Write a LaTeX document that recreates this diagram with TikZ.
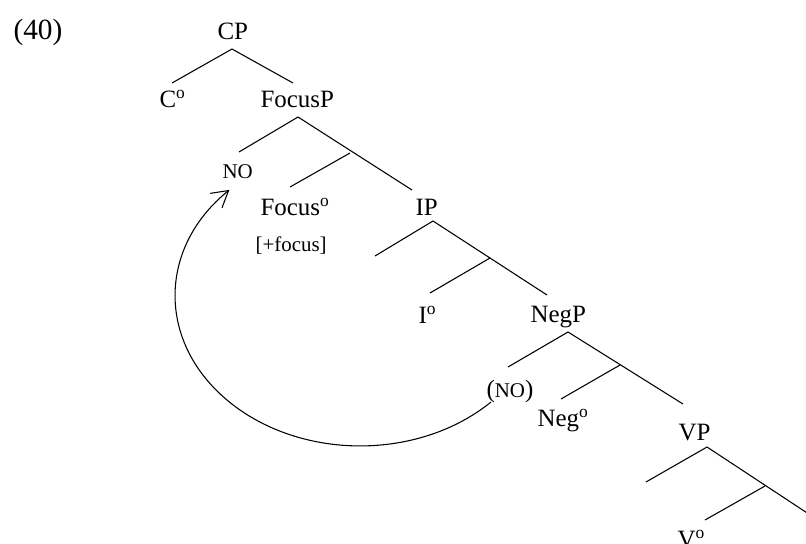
\documentclass[tikz,border=0pt]{standalone}
\usepackage{fontspec}
\setmainfont{Liberation Serif}
\usetikzlibrary{arrows.meta}
\begin{document}
\begin{tikzpicture}[x=0.75pt,y=0.75pt,line width=0.8pt,
  lab/.style={anchor=base west,inner sep=0pt,font=\fontsize{18.7}{20}\selectfont},
  sm/.style={anchor=base west,inner sep=0pt,font=\fontsize{15.7}{18}\selectfont},
  big/.style={anchor=base west,inner sep=0pt,font=\fontsize{22}{24}\selectfont},
  branch/.style={line width=0.8pt},
  movearrow/.style={line width=0.8pt,-{Straight Barb[length=12pt,width=14pt]}}]
\useasboundingbox (0,0) rectangle (806,-543);
\clip (0,0) rectangle (806,-543);
% labels
\node[big] (ex) at (13,-39) {(40)};
\node[lab] (cp) at (217,-39) {CP};
\node[lab] (c0) at (159,-107) {C\textsuperscript{o}};
\node[lab] (focp) at (260,-107) {FocusP};
\node[sm] (no) at (222,-178) {NO};
\node[lab] (foc0) at (260,-215) {Focus\textsuperscript{o}};
\node[sm] (feat) at (255,-251) {[+focus]};
\node[lab] (ip) at (415,-215) {IP};
\node[lab] (i0) at (418,-323) {I\textsuperscript{o}};
\node[lab] (negp) at (530,-322) {NegP};
\node[sm] (lowno) at (486,-397) {{\fontsize{18.7}{20}\selectfont(}NO{\fontsize{18.7}{20}\selectfont)}};
\node[lab] (neg0) at (537,-426) {Neg\textsuperscript{o}};
\node[lab] (vp) at (678,-440) {VP};
\node[lab] (v0) at (677,-547) {V\textsuperscript{o}};
% branch points
\coordinate (a1) at (232,-49);  \coordinate (a1l) at (172,-83);  \coordinate (a1r) at (293,-83);
\coordinate (a2) at (298,-117); \coordinate (a2l) at (239,-152); \coordinate (a2r) at (412,-190);
\coordinate (b2) at (350,-153); \coordinate (b2l) at (290,-187);
\coordinate (a3) at (433,-221); \coordinate (a3l) at (375,-256); \coordinate (a3r) at (547,-295);
\coordinate (b3) at (490,-258); \coordinate (b3l) at (430,-293);
\coordinate (a4) at (568,-332); \coordinate (a4l) at (508,-367); \coordinate (a4r) at (683,-404);
\coordinate (b4) at (620,-365); \coordinate (b4l) at (561,-399);
\coordinate (a5) at (707,-447); \coordinate (a5l) at (646,-482); \coordinate (a5r) at (830,-528);
\coordinate (b5) at (765,-486); \coordinate (b5l) at (705,-520);
\draw[branch] (a1l) -- (a1) -- (a1r);
\draw[branch] (a2l) -- (a2) -- (a2r);
\draw[branch] (b2) -- (b2l);
\draw[branch] (a3l) -- (a3) -- (a3r);
\draw[branch] (b3) -- (b3l);
\draw[branch] (a4l) -- (a4) -- (a4r);
\draw[branch] (b4) -- (b4l);
\draw[branch] (a5l) -- (a5) -- (a5r);
\draw[branch] (b5) -- (b5l);
% movement arrow
\coordinate (arcstart) at (491,-402);
\draw[movearrow] (arcstart) arc[start angle=315,end angle=135,x radius=185,y radius=150];
\end{tikzpicture}
\end{document}
